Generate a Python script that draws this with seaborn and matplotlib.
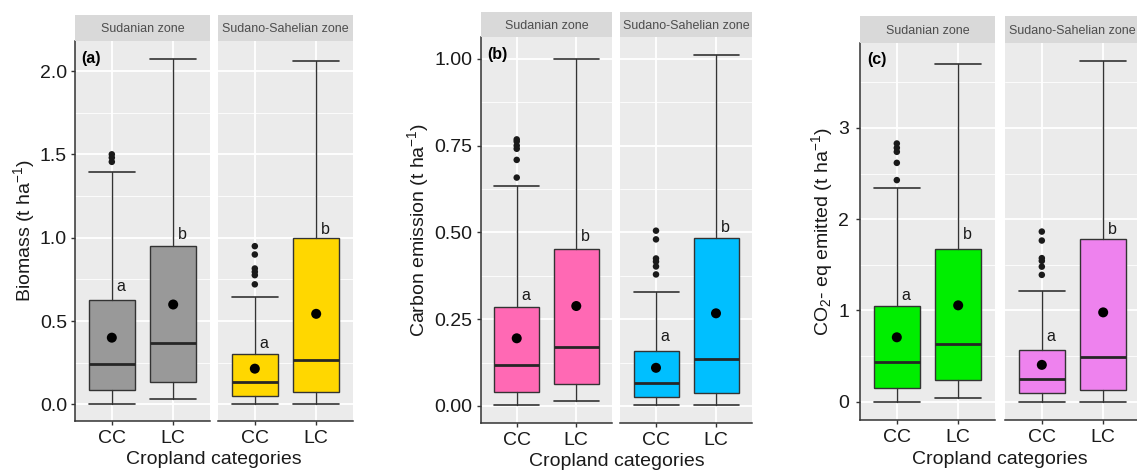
import matplotlib
matplotlib.use("Agg")
import matplotlib.pyplot as plt
from matplotlib.ticker import MultipleLocator, FormatStrFormatter
import seaborn as sns
import pandas as pd

# ===== Data (order: Sudanian CC, Sudanian LC, Sudano-Sahelian CC, Sudano-Sahelian LC) =====
zones = ["Sudanian zone", "Sudano-Sahelian zone"]
categories = ["CC", "LC"]
letters = ["a", "b", "a", "b"]

biomass_lo = [0.005, 0.030, 0.005, 0.005]
biomass_q1 = [0.088, 0.134, 0.048, 0.074]
biomass_med = [0.244, 0.368, 0.134, 0.268]
biomass_q3 = [0.629, 0.951, 0.300, 0.997]
biomass_hi = [1.395, 2.072, 0.645, 2.062]
biomass_mean = [0.400, 0.599, 0.214, 0.543]
biomass_out = [[1.455, 1.48, 1.50], [], [0.72, 0.775, 0.795, 0.815, 0.899, 0.949], []]
biomass_letter_y = [0.705, 1.02, 0.364, 1.049]

carbon_lo = [0.003, 0.014, 0.003, 0.003]
carbon_q1 = [0.041, 0.062, 0.027, 0.036]
carbon_med = [0.118, 0.171, 0.067, 0.134]
carbon_q3 = [0.284, 0.453, 0.158, 0.485]
carbon_hi = [0.634, 1.000, 0.329, 1.010]
carbon_mean = [0.195, 0.288, 0.110, 0.267]
carbon_out = [[0.658, 0.709, 0.741, 0.750, 0.762, 0.768], [],
              [0.379, 0.402, 0.416, 0.425, 0.480, 0.505], []]
carbon_letter_y = [0.318, 0.487, 0.200, 0.515]

co2_lo = [0.0, 0.044, 0.0, 0.0]
co2_q1 = [0.153, 0.237, 0.091, 0.127]
co2_med = [0.437, 0.637, 0.244, 0.491]
co2_q3 = [1.045, 1.675, 0.572, 1.784]
co2_hi = [2.337, 3.695, 1.216, 3.728]
co2_mean = [0.706, 1.056, 0.404, 0.979]
co2_out = [[2.428, 2.617, 2.738, 2.781, 2.829], [],
           [1.39, 1.48, 1.543, 1.573, 1.766, 1.864], []]
co2_letter_y = [1.16, 1.83, 0.71, 1.89]

# ===== Style =====
sns.set_theme(style="darkgrid", rc={
    "axes.facecolor": "#EBEBEB",
    "grid.color": "white",
    "axes.edgecolor": "#333333",
})
plt.rcParams["font.family"] = ["Liberation Sans", "DejaVu Sans"]
plt.rcParams["mathtext.fontset"] = "custom"
plt.rcParams["mathtext.rm"] = "Liberation Sans"
plt.rcParams["mathtext.it"] = "Liberation Sans:italic"
plt.rcParams["mathtext.default"] = "rm"

W, H = 1137, 470
fig = plt.figure(figsize=(W / 100, H / 100), dpi=100)


def px_axes(x0, x1, y0, y1):
    return fig.add_axes([x0 / W, 1 - y1 / H, (x1 - x0) / W, (y1 - y0) / H])


panels = [
    dict(tag="(a)", ylabel="Biomass (t ha$^{-1}$)",
         lo=biomass_lo, q1=biomass_q1, med=biomass_med, q3=biomass_q3, hi=biomass_hi,
         mean=biomass_mean, out=biomass_out, let_y=biomass_letter_y,
         colors=["#999999", "#FFD700"], ylim=(-0.10, 2.18), major=0.5, fmt="%.1f",
         facets=[(75, 210), (218, 353)], top=15, strip=41, bottom=421,
         ylab_x=24, xlab_y=460, tick_pad=3),
    dict(tag="(b)", ylabel="Carbon emission (t ha$^{-1}$)",
         lo=carbon_lo, q1=carbon_q1, med=carbon_med, q3=carbon_q3, hi=carbon_hi,
         mean=carbon_mean, out=carbon_out, let_y=carbon_letter_y,
         colors=["#FF69B4", "#00BFFF"], ylim=(-0.049, 1.063), major=0.25, fmt="%.2f",
         facets=[(481, 612), (620, 752)], top=12, strip=37, bottom=423,
         ylab_x=418, xlab_y=462, tick_pad=3.7),
    dict(tag="(c)", ylabel="CO$_2$- eq emitted (t ha$^{-1}$)",
         lo=co2_lo, q1=co2_q1, med=co2_med, q3=co2_q3, hi=co2_hi,
         mean=co2_mean, out=co2_out, let_y=co2_letter_y,
         colors=["#00EE00", "#EE82EE"], ylim=(-0.2, 3.93), major=1.0, fmt="%d",
         facets=[(860, 995), (1005, 1140)], top=16, strip=43, bottom=420,
         ylab_x=822, xlab_y=459, tick_pad=5.2),
]

for p in panels:
    for z, (x0, x1) in enumerate(p["facets"]):
        idx = [2 * z, 2 * z + 1]
        ax = px_axes(x0, x1, p["strip"], p["bottom"])
        stats = [dict(whislo=p["lo"][i], q1=p["q1"][i], med=p["med"][i], q3=p["q3"][i],
                      whishi=p["hi"][i], fliers=[]) for i in idx]
        bp = ax.bxp(stats, positions=[0, 1], widths=0.75, capwidths=0.75,
                    patch_artist=True, showfliers=False,
                    boxprops=dict(edgecolor="#333333", linewidth=1.0),
                    medianprops=dict(color="#262626", linewidth=2.0),
                    whiskerprops=dict(color="#333333", linewidth=1.0),
                    capprops=dict(color="#333333", linewidth=1.2))
        for b in bp["boxes"]:
            b.set_facecolor(p["colors"][z])

        # outliers and means
        out_df = pd.DataFrame({
            "x": [k for k, i in enumerate(idx) for _ in p["out"][i]],
            "y": [v for i in idx for v in p["out"][i]],
        })
        if len(out_df):
            sns.scatterplot(data=out_df, x="x", y="y", ax=ax, color="#1a1a1a",
                            s=22, edgecolor="none", zorder=4, legend=False)
        mean_df = pd.DataFrame({"x": [0, 1], "y": [p["mean"][i] for i in idx]})
        sns.scatterplot(data=mean_df, x="x", y="y", ax=ax, color="black",
                        s=52, edgecolor="none", zorder=5, legend=False)

        for k, i in enumerate(idx):
            ax.text(k + 0.15, p["let_y"][i], letters[i], ha="center", va="center",
                    fontsize=11.5, color="#1a1a1a")

        ax.set_xlim(-0.6, 1.6)
        ax.set_ylim(*p["ylim"])
        ax.set_xticks([0, 1])
        ax.set_xticklabels(categories)
        ax.yaxis.set_major_locator(MultipleLocator(p["major"]))
        ax.yaxis.set_minor_locator(MultipleLocator(p["major"] / 2))
        ax.yaxis.set_major_formatter(FormatStrFormatter(p["fmt"]))
        ax.grid(which="major", color="white", linewidth=1.3)
        ax.grid(which="minor", axis="y", color="white", linewidth=0.6)
        ax.set_axisbelow(True)
        ax.set_xlabel("")
        ax.set_ylabel("")
        for s in ["top", "right"]:
            ax.spines[s].set_visible(False)
        ax.spines["bottom"].set_visible(True)
        ax.spines["bottom"].set_color("#333333")
        ax.spines["bottom"].set_linewidth(1.1)
        ax.tick_params(axis="x", which="major", bottom=True, length=2.75, width=1,
                       color="#333333", labelsize=14, labelcolor="#1a1a1a", pad=4)
        if z == 0:
            ax.spines["left"].set_visible(True)
            ax.spines["left"].set_color("#333333")
            ax.spines["left"].set_linewidth(1.1)
            ax.tick_params(axis="y", which="major", left=True, length=2.75, width=1,
                           color="#333333", labelsize=14, labelcolor="#1a1a1a",
                           pad=p["tick_pad"])
            ax.tick_params(axis="y", which="minor", left=False)
            ax.text(0.05, 0.975, p["tag"], transform=ax.transAxes, ha="left", va="top",
                    fontsize=11.5, fontweight="bold", color="black")
        else:
            ax.spines["left"].set_visible(False)
            ax.tick_params(axis="y", which="both", left=False, labelleft=False)

        # facet strip
        sax = px_axes(x0, x1, p["top"], p["strip"])
        sax.set_facecolor("#D9D9D9")
        sax.set_xticks([])
        sax.set_yticks([])
        sax.grid(False)
        for s in sax.spines.values():
            s.set_visible(False)
        sax.text(0.5, 0.45, zones[z], transform=sax.transAxes, ha="center",
                 va="center", fontsize=9, color="#4D4D4D")

    fx0 = p["facets"][0][0]
    fx1 = p["facets"][1][1]
    fig.text((fx0 + fx1) / 2 / W, 1 - p["xlab_y"] / H, "Cropland categories",
             ha="center", va="center", fontsize=14, color="#1a1a1a")
    fig.text(p["ylab_x"] / W, 1 - (p["strip"] + p["bottom"]) / 2 / H, p["ylabel"],
             rotation=90, ha="center", va="center", fontsize=14, color="#1a1a1a")

fig.savefig("out.png", dpi=100, facecolor="white")
